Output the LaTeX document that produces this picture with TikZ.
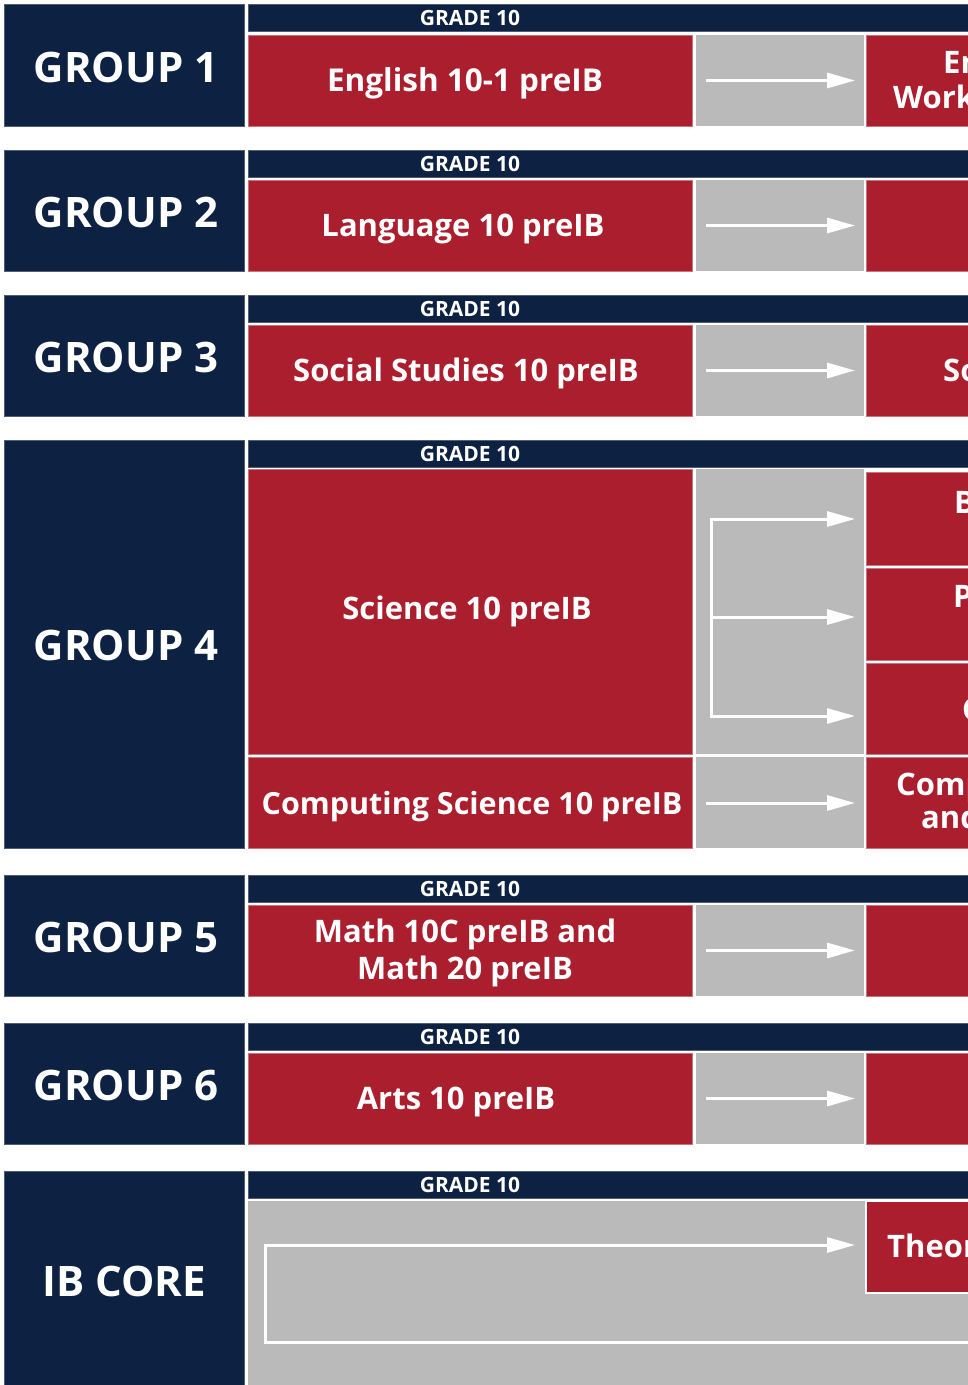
\documentclass[tikz,border=0pt]{standalone}
\usepackage{fontspec}
\setmainfont{Open Sans}
\usetikzlibrary{arrows.meta}
\definecolor{navy}{HTML}{0D2242}
\definecolor{navyedge}{HTML}{4F5E75}
\definecolor{ibred}{HTML}{AA1E2E}
\definecolor{rededge}{HTML}{C9747D}
\definecolor{ibgray}{HTML}{BABABA}
\newcommand\mybox[6]{\node[#1, anchor=north west, minimum width={(#4)-(#2)}, minimum height={(#5)-(#3)}] (#6) at (#2,#3) {};}
\begin{document}
\begin{tikzpicture}[x=1pt,y=-1pt,
  navybox/.style={fill=navy, draw=navyedge, line width=0.7pt, inner sep=0pt, outer sep=0pt},
  redbox/.style={fill=ibred, draw=rededge, line width=0.6pt, inner sep=0pt, outer sep=0pt},
  graybox/.style={fill=ibgray, inner sep=0pt, outer sep=0pt},
  theorybox/.style={fill=ibred, draw=white, line width=2pt, inner sep=0pt, outer sep=0pt},
  grplbl/.style={text=white, anchor=base, inner sep=0pt, font=\fontsize{42}{48}\selectfont\bfseries},
  grdlbl/.style={text=white, anchor=base, inner sep=0pt, font=\fontsize{21}{24}\selectfont\bfseries},
  crslbl/.style={text=white, anchor=base, inner sep=0pt, align=center, font=\fontsize{31}{37}\selectfont\bfseries},
  cutlbl/.style={text=white, anchor=base west, inner sep=0pt, font=\fontsize{31}{37}\selectfont\bfseries},
  wline/.style={draw=white, line width=3pt},
  arr/.style={wline, -{Triangle[length=28pt,width=15pt]}, shorten >=11pt},
]
\useasboundingbox (0,0) rectangle (968,1385);
\clip (0,0) rectangle (968,1385);

% ---------- GROUP 1 ----------
\mybox{navybox}{4}{4}{244}{126}{n1}
\mybox{navybox}{248}{4}{975}{31}{h1}
\mybox{redbox}{248}{35}{692}{126}{c1}
\mybox{graybox}{696}{35}{864}{126}{g1}
\mybox{redbox}{866}{35}{975}{126}{r1}
\node[grplbl] (t1) at (126,82) {GROUP 1};
\node[grdlbl] (d1) at (470,25) {GRADE 10};
\node[crslbl, font=\fontsize{31.5}{37}\selectfont\bfseries] (e1) at (465,91) {English 10-1 preIB};
\node[cutlbl] (f1a) at (943,73) {En};
\node[cutlbl] (f1b) at (893,108) {Work};
\coordinate (s1) at (706,80.5);
\draw[arr] (s1) -- (r1.west |- s1);

% ---------- GROUP 2 ----------
\mybox{navybox}{4}{150}{244}{271}{n2}
\mybox{navybox}{248}{150}{975}{177}{h2}
\mybox{redbox}{248}{180}{692}{271}{c2}
\mybox{graybox}{696}{180}{864}{271}{g2}
\mybox{redbox}{866}{180}{975}{271}{r2}
\node[grplbl] (t2) at (126,227) {GROUP 2};
\node[grdlbl] (d2) at (470,171) {GRADE 10};
\node[crslbl] (e2) at (463,236) {Language 10 preIB};
\coordinate (s2) at (706,225.5);
\draw[arr] (s2) -- (r2.west |- s2);

% ---------- GROUP 3 ----------
\mybox{navybox}{4}{295}{244}{416}{n3}
\mybox{navybox}{248}{295}{975}{322}{h3}
\mybox{redbox}{248}{325}{692}{416}{c3}
\mybox{graybox}{696}{325}{864}{416}{g3}
\mybox{redbox}{866}{325}{975}{416}{r3}
\node[grplbl] (t3) at (126,372.5) {GROUP 3};
\node[grdlbl] (d3) at (470,316) {GRADE 10};
\node[crslbl] (e3) at (466,381) {Social Studies 10 preIB};
\node[cutlbl] (f3) at (943,381) {So};
\coordinate (s3) at (706,370.5);
\draw[arr] (s3) -- (r3.west |- s3);

% ---------- GROUP 4 ----------
\mybox{navybox}{4}{440}{244}{848}{n4}
\mybox{navybox}{248}{440}{975}{467}{h4}
\mybox{redbox}{248}{469}{692}{754}{c4}
\mybox{graybox}{696}{469}{864}{754}{g4}
\mybox{redbox}{866}{472}{975}{565}{rB}
\mybox{redbox}{866}{568}{975}{660}{rP}
\mybox{redbox}{866}{663}{975}{754}{rC}
\mybox{redbox}{248}{757}{692}{848}{c4b}
\mybox{graybox}{696}{757}{864}{848}{g4b}
\mybox{redbox}{866}{757}{975}{848}{r4b}
\node[grplbl] (t4) at (126,660.5) {GROUP 4};
\node[grdlbl] (d4) at (470,461) {GRADE 10};
\node[crslbl] (e4) at (467,619.5) {Science 10 preIB};
\node[crslbl, font=\fontsize{30.5}{37}\selectfont\bfseries] (e4b) at (472,814) {Computing Science 10 preIB};
\node[cutlbl] (fB) at (954,513) {B};
\node[cutlbl] (fP) at (953,607) {P};
\node[cutlbl] (fC) at (962,720) {C};
\node[cutlbl] (f4a) at (896,795) {Comp};
\node[cutlbl] (f4b) at (921,828) {and};
\coordinate (gT) at (711,519);
\coordinate (gM) at (711,617);
\coordinate (gB) at (711,716);
\draw[wline, line cap=rect] (gT) -- (gB);
\draw[arr] (gT) -- (rB.west |- gT);
\draw[arr] (gM) -- (rP.west |- gM);
\draw[arr] (gB) -- (rC.west |- gB);
\coordinate (s4b) at (706,803);
\draw[arr] (s4b) -- (r4b.west |- s4b);

% ---------- GROUP 5 ----------
\mybox{navybox}{4}{875}{244}{996}{n5}
\mybox{navybox}{248}{875}{975}{902}{h5}
\mybox{redbox}{248}{905}{692}{996}{c5}
\mybox{graybox}{696}{905}{864}{996}{g5}
\mybox{redbox}{866}{905}{975}{996}{r5}
\node[grplbl] (t5) at (126,952) {GROUP 5};
\node[grdlbl] (d5) at (470,896) {GRADE 10};
\node[crslbl, anchor=center] (e5) at (465,953) {Math 10C preIB and\\Math 20 preIB};
\coordinate (s5) at (706,950.5);
\draw[arr] (s5) -- (r5.west |- s5);

% ---------- GROUP 6 ----------
\mybox{navybox}{4}{1023}{244}{1144}{n6}
\mybox{navybox}{248}{1023}{975}{1050}{h6}
\mybox{redbox}{248}{1053}{692}{1144}{c6}
\mybox{graybox}{696}{1053}{864}{1144}{g6}
\mybox{redbox}{866}{1053}{975}{1144}{r6}
\node[grplbl] (t6) at (126,1100) {GROUP 6};
\node[grdlbl] (d6) at (470,1044) {GRADE 10};
\node[crslbl] (e6) at (456,1109) {Arts 10 preIB};
\coordinate (s6) at (706,1098.5);
\draw[arr] (s6) -- (r6.west |- s6);

% ---------- IB CORE ----------
\mybox{navybox}{4}{1171}{244}{1392}{n7}
\mybox{navybox}{248}{1171}{975}{1198}{h7}
\mybox{graybox}{248}{1201}{975}{1392}{g7}
\mybox{theorybox}{866}{1201}{980}{1293}{r7}
\node[grplbl, font=\fontsize{42}{48}\selectfont\bfseries] (t7) at (124,1296) {IB CORE};
\node[grdlbl] (d7) at (470,1192) {GRADE 10};
\node[cutlbl] (f7) at (887,1257) {Theor};
\coordinate (iA) at (265,1245);
\coordinate (iB) at (265,1342);
\coordinate (iC) at (980,1342);
\draw[arr, line join=miter] (iC) -- (iB) -- (iA) -- (r7.west |- iA);
\end{tikzpicture}
\end{document}
